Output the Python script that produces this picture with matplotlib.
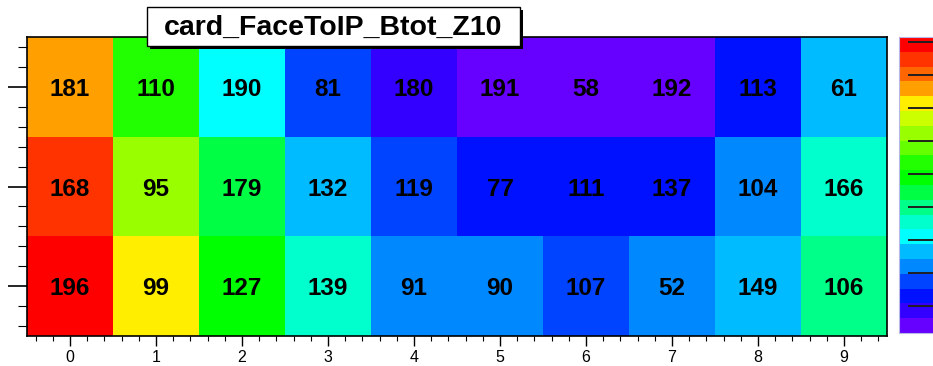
"""
Recreate the ROOT COLZ+TEXT map card_FaceToIP_Btot_Z10.
"""

import numpy as np
import matplotlib
matplotlib.use("Agg")
import matplotlib.pyplot as plt
from matplotlib.colors import ListedColormap, BoundaryNorm
from matplotlib.patches import Rectangle
from matplotlib.transforms import ScaledTranslation

plt.rcParams["font.family"] = ["Liberation Sans", "DejaVu Sans"]

TITLE = "card_FaceToIP_Btot_Z10"

x_bins = list(range(10))
y_bins = [0, 1, 2]

# numbers printed in the cells, one list per row (bottom row first)
counts_row0 = [196, 99, 127, 139, 91, 90, 107, 52, 149, 106]
counts_row1 = [168, 95, 179, 132, 119, 77, 111, 137, 104, 166]
counts_row2 = [181, 110, 190, 81, 180, 191, 58, 192, 113, 61]

# palette level of each cell (0 = violet, 19 = red)
level_row0 = [19, 15, 10, 7, 4, 4, 3, 4, 5, 8]
level_row1 = [18, 13, 9, 5, 3, 2, 2, 2, 4, 7]
level_row2 = [16, 11, 6, 3, 1, 0, 0, 0, 2, 5]

# discrete ROOT-like rainbow palette, bottom -> top
palette = ["#6600ff", "#3300ff", "#0011ff", "#0044ff", "#0088ff",
           "#00bbff", "#00ffff", "#00ffcc", "#00ff88", "#00ff44",
           "#00ff00", "#22ff00", "#66ff00", "#99ff00", "#ccff00",
           "#ffee00", "#ffa000", "#ff6600", "#ff3300", "#ff0000"]

W, H = 933, 366


def fx(px):
    return px / W


def fy(py):
    return 1 - py / H


def main():
    fig = plt.figure(figsize=(W / 100, H / 100), dpi=100)
    ax = fig.add_axes([fx(27), fy(336), fx(887) - fx(27), fy(37) - fy(336)])

    levels = np.array([level_row0, level_row1, level_row2]) + 0.5
    counts = [counts_row0, counts_row1, counts_row2]

    cmap = ListedColormap(palette)
    norm = BoundaryNorm(np.arange(len(palette) + 1), cmap.N)
    xe = np.arange(len(x_bins) + 1) - 0.5
    ye = np.arange(len(y_bins) + 1) - 0.5
    mesh = ax.pcolormesh(xe, ye, levels, cmap=cmap, norm=norm)

    # digits have no descender, so sit them on the baseline and shift down
    shift = ax.transData + ScaledTranslation(0, -6.6 / 72, fig.dpi_scale_trans)
    for j, row in enumerate(counts):
        for i, v in enumerate(row):
            ax.text(x_bins[i], y_bins[j], str(v), ha="center", va="baseline",
                    fontsize=17.5, fontweight="bold", color="black",
                    transform=shift)

    ax.set_xlim(-0.5, 9.5)
    ax.set_ylim(-0.5, 2.5)
    ax.set_xticks(x_bins)
    ax.set_xticks(np.arange(-0.4, 9.5, 0.2), minor=True)
    ax.set_yticks(y_bins)
    ax.set_yticks(np.arange(-0.4, 2.5, 0.2), minor=True)
    ax.set_yticklabels([])
    ax.tick_params(axis="x", which="major", direction="out", length=7.5,
                   width=1.0, labelsize=11.5, pad=2.5)
    ax.tick_params(axis="x", which="minor", direction="out", length=3.8, width=0.8)
    ax.tick_params(axis="y", which="major", direction="out", length=13.5, width=1.2)
    ax.tick_params(axis="y", which="minor", direction="out", length=6.5, width=0.8)
    for s in ax.spines.values():
        s.set_linewidth(1.2)

    # palette on the right, partly cut off by the figure edge
    cax = fig.add_axes([fx(899), fy(333), fx(40), fy(37) - fy(333)])
    cb = fig.colorbar(mesh, cax=cax)
    cb.set_ticks([])
    cb.outline.set_edgecolor("#b8b8e8")
    cb.outline.set_linewidth(0.8)
    pal_ticks = np.arange(1.82, 20, 2.23)
    cax.hlines(pal_ticks, 0.225, 1.0, colors="#202020", linewidth=1.4,
               transform=cax.get_yaxis_transform())

    # title box with shadow
    fig.patches.append(Rectangle((fx(150), fy(49)), fx(373), fy(10) - fy(49),
                                 transform=fig.transFigure, facecolor="black",
                                 edgecolor="none", zorder=5))
    fig.patches.append(Rectangle((fx(147), fy(46)), fx(373), fy(7) - fy(46),
                                 transform=fig.transFigure, facecolor="white",
                                 edgecolor="black", linewidth=1.0, zorder=6))
    fig.text(fx(147 + 373 / 2), fy(28), TITLE, ha="center", va="center",
             fontsize=20.5, fontweight="bold", zorder=7)

    fig.savefig("out.png", dpi=100)


if __name__ == "__main__":
    main()
